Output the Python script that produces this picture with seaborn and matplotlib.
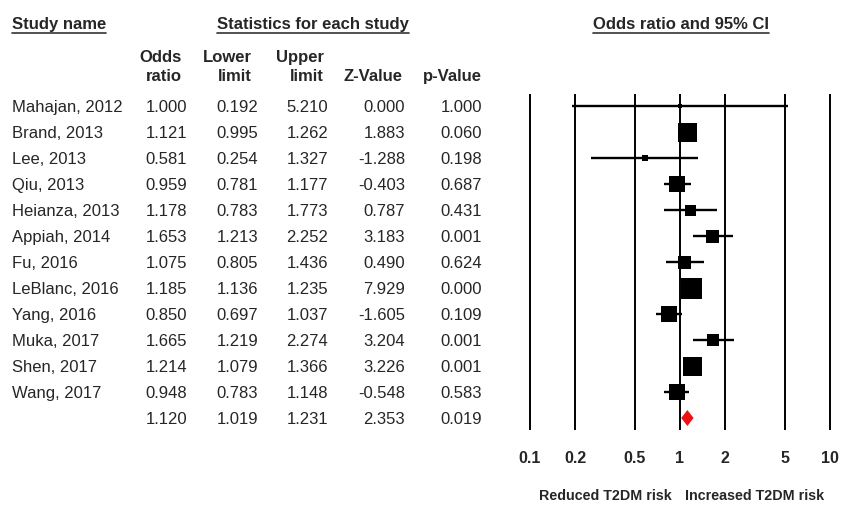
import matplotlib
matplotlib.use("Agg")
import matplotlib.pyplot as plt
from matplotlib.lines import Line2D
import seaborn as sns
import numpy as np
import pandas as pd

# ---------------- data ----------------
studies = ["Mahajan, 2012", "Brand, 2013", "Lee, 2013", "Qiu, 2013", "Heianza, 2013",
           "Appiah, 2014", "Fu, 2016", "LeBlanc, 2016", "Yang, 2016", "Muka, 2017",
           "Shen, 2017", "Wang, 2017"]
odds_ratio = [1.000, 1.121, 0.581, 0.959, 1.178, 1.653, 1.075, 1.185, 0.850, 1.665, 1.214, 0.948]
lower_limit = [0.192, 0.995, 0.254, 0.781, 0.783, 1.213, 0.805, 1.136, 0.697, 1.219, 1.079, 0.783]
upper_limit = [5.210, 1.262, 1.327, 1.177, 1.773, 2.252, 1.436, 1.235, 1.037, 2.274, 1.366, 1.148]
z_value = ["0.000", "1.883", "-1.288", "-0.403", "0.787", "3.183", "0.490", "7.929",
           "-1.605", "3.204", "3.226", "-0.548"]
p_value = ["1.000", "0.060", "0.198", "0.687", "0.431", "0.001", "0.624", "0.000",
           "0.109", "0.001", "0.001", "0.583"]
# relative study weights (box side)
box_weight = [4, 19, 6, 16, 11, 13, 13, 21, 16, 12, 19, 16]

pooled_or, pooled_lower, pooled_upper = 1.120, 1.019, 1.231
pooled_z, pooled_p = "2.353", "0.019"

tick_values = [0.1, 0.2, 0.5, 1, 2, 5, 10]
tick_labels = ["0.1", "0.2", "0.5", "1", "2", "5", "10"]

df = pd.DataFrame({"study": studies, "or": odds_ratio, "lo": lower_limit,
                   "hi": upper_limit, "w": box_weight})
df["row"] = np.arange(len(df))

# ---------------- figure ----------------
sns.set_theme(style="white")
plt.rcParams["font.family"] = ["Liberation Sans", "DejaVu Sans"]

W, H = 841, 529
fig = plt.figure(figsize=(W / 100, H / 100), dpi=100)

def fx(px):
    return px / W

def fy(py):
    return 1 - py / H

# forest axes: 0.1 -> 530px, 10 -> 830px, top 94px, bottom 430px
left_px, right_px = 515, 838
xmin = 0.1 * 10 ** (-(530 - left_px) / 150)
xmax = 10 * 10 ** ((right_px - 830) / 150)
ax = fig.add_axes([fx(left_px), fy(430), (right_px - left_px) / W, (430 - 94) / H])
ax.set_xscale("log")
ax.set_xlim(xmin, xmax)
ax.set_ylim(12 + 12 / 26, -12 / 26)
for s in ax.spines.values():
    s.set_visible(False)
ax.set_yticks([])

for tv in tick_values:
    ax.axvline(tv, color="black", lw=1.4, zorder=1)

ax.set_xticks(tick_values)
ax.set_xticklabels(tick_labels, fontsize=11.5, fontweight="bold")
ax.xaxis.set_minor_locator(matplotlib.ticker.NullLocator())
ax.tick_params(axis="x", length=0, pad=15)

# CI lines
ax.hlines(df["row"], df["lo"], df["hi"], color="black", lw=1.7, zorder=2)

# boxes
sizes = (df["w"].to_numpy() * 0.72) ** 2
sns.scatterplot(data=df, x="or", y="row", marker="s", color="black", s=sizes,
                linewidth=0, ax=ax, zorder=3, legend=False)
ax.set_xlabel("")
ax.set_ylabel("")

# pooled diamond
prow = len(studies)
dh = 8 / 26
ax.fill([pooled_lower, pooled_or, pooled_upper, pooled_or],
        [prow, prow - dh, prow, prow + dh], color="#ee1111", lw=0, zorder=3)

# ---------------- table text ----------------
fs = 12
VA = "center_baseline"
row_px = [106 + 26 * i for i in range(len(studies) + 1)]

col_right = [187, 258, 328, 405, 482]
for i, name in enumerate(studies):
    y = fy(row_px[i])
    fig.text(fx(12), y, name, fontsize=fs, ha="left", va=VA)
    vals = [f"{odds_ratio[i]:.3f}", f"{lower_limit[i]:.3f}", f"{upper_limit[i]:.3f}",
            z_value[i], p_value[i]]
    for xr, v in zip(col_right, vals):
        fig.text(fx(xr), y, v, fontsize=fs, ha="right", va=VA)

y = fy(row_px[-1])
pvals = [f"{pooled_or:.3f}", f"{pooled_lower:.3f}", f"{pooled_upper:.3f}", pooled_z, pooled_p]
for xr, v in zip(col_right, pvals):
    fig.text(fx(xr), y, v, fontsize=fs, ha="right", va=VA)

# column headers
hdr_right = [182, 252, 324, 403, 482]
hdr_top = ["Odds", "Lower", "Upper", "", ""]
hdr_bot = ["ratio", "limit", "limit", "Z-Value", "p-Value"]
for xr, t, b in zip(hdr_right, hdr_top, hdr_bot):
    if t:
        fig.text(fx(xr), fy(56), t, fontsize=fs, fontweight="bold", ha="right", va=VA)
    fig.text(fx(xr), fy(75), b, fontsize=fs, fontweight="bold", ha="right", va=VA)

# section titles with underline
titles = [
    fig.text(fx(12), fy(23), "Study name", fontsize=fs, fontweight="bold", ha="left", va=VA),
    fig.text(fx(313), fy(23), "Statistics for each study", fontsize=fs, fontweight="bold",
             ha="center", va=VA),
    fig.text(fx(681), fy(23), "Odds ratio and 95% CI", fontsize=fs, fontweight="bold",
             ha="center", va=VA),
]

fig.text(fx(605), fy(494), "Reduced T2DM risk", fontsize=10.3, fontweight="bold",
         ha="center", va=VA)
fig.text(fx(755), fy(494), "Increased T2DM risk", fontsize=10.3, fontweight="bold",
         ha="center", va=VA)

fig.canvas.draw()
renderer = fig.canvas.get_renderer()
for t in titles:
    bb = t.get_window_extent(renderer)
    x0, x1 = bb.x0 / W, bb.x1 / W
    fig.add_artist(Line2D([x0, x1], [fy(32.5), fy(32.5)], color="#333333", lw=1.2,
                          transform=fig.transFigure))

fig.savefig("out.png", dpi=100)
